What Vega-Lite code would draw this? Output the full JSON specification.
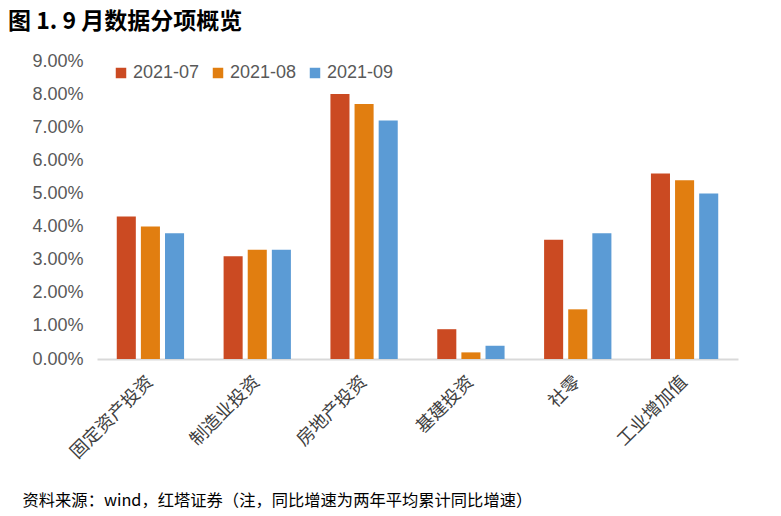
{
  "$schema": "https://vega.github.io/schema/vega-lite/v6.json",
  "width": 641,
  "height": 298,
  "autosize": "none",
  "padding": {"left": 97, "top": 61, "right": 43, "bottom": 157},
  "background": "white",
  "title": {
    "text": "图 1. 9 月数据分项概览",
    "anchor": "start",
    "orient": "top",
    "frame": "group",
    "dx": -89,
    "dy": -14,
    "font": "Noto Sans CJK SC",
    "fontSize": 23,
    "fontWeight": "bold",
    "color": "#000000"
  },
  "data": {
    "values": [
      {"cat": "固定资产投资", "series": "2021-07", "value": 4.3},
      {"cat": "固定资产投资", "series": "2021-08", "value": 4.0},
      {"cat": "固定资产投资", "series": "2021-09", "value": 3.8},
      {"cat": "制造业投资", "series": "2021-07", "value": 3.1},
      {"cat": "制造业投资", "series": "2021-08", "value": 3.3},
      {"cat": "制造业投资", "series": "2021-09", "value": 3.3},
      {"cat": "房地产投资", "series": "2021-07", "value": 8.0},
      {"cat": "房地产投资", "series": "2021-08", "value": 7.7},
      {"cat": "房地产投资", "series": "2021-09", "value": 7.2},
      {"cat": "基建投资", "series": "2021-07", "value": 0.9},
      {"cat": "基建投资", "series": "2021-08", "value": 0.2},
      {"cat": "基建投资", "series": "2021-09", "value": 0.4},
      {"cat": "社零", "series": "2021-07", "value": 3.6},
      {"cat": "社零", "series": "2021-08", "value": 1.5},
      {"cat": "社零", "series": "2021-09", "value": 3.8},
      {"cat": "工业增加值", "series": "2021-07", "value": 5.6},
      {"cat": "工业增加值", "series": "2021-08", "value": 5.4},
      {"cat": "工业增加值", "series": "2021-09", "value": 5.0}
    ]
  },
  "mark": {"type": "bar"},
  "encoding": {
    "x": {
      "field": "cat",
      "type": "nominal",
      "sort": null,
      "scale": {"paddingInner": 0.37, "paddingOuter": 0.185},
      "axis": {
        "title": "资料来源：wind，红塔证券（注，同比增速为两年平均累计同比增速）",
        "titleAnchor": "start",
        "titleAlign": "left",
        "titleBaseline": "middle",
        "titleX": -75,
        "titleY": 141,
        "titleFont": "Noto Sans CJK SC",
        "titleFontSize": 16.3,
        "titleFontWeight": "normal",
        "titleColor": "#000000",
        "labelAngle": -45,
        "labelAlign": "right",
        "labelBaseline": "middle",
        "labelFont": "Noto Sans CJK SC",
        "labelFontSize": 18,
        "labelColor": "#404040",
        "labelPadding": 20,
        "ticks": false,
        "domainColor": "#D9D9D9",
        "domainWidth": 2,
        "grid": false
      }
    },
    "xOffset": {
      "field": "series",
      "type": "nominal",
      "scale": {"paddingInner": 0.21, "paddingOuter": 0}
    },
    "y": {
      "field": "value",
      "type": "quantitative",
      "scale": {"domain": [0, 9], "nice": false},
      "axis": {
        "title": null,
        "values": [0, 1, 2, 3, 4, 5, 6, 7, 8, 9],
        "labelExpr": "format(datum.value, '.2f') + '%'",
        "labelFont": "Liberation Sans",
        "labelFontSize": 18,
        "labelColor": "#595959",
        "labelPadding": 14,
        "ticks": false,
        "domain": false,
        "grid": false
      }
    },
    "color": {
      "field": "series",
      "type": "nominal",
      "scale": {"domain": ["2021-07", "2021-08", "2021-09"], "range": ["#CB4A22", "#E17E10", "#5B9BD5"]},
      "legend": {
        "title": null,
        "orient": "none",
        "direction": "horizontal",
        "legendX": 15,
        "legendY": 3,
        "symbolType": "square",
        "symbolSize": 110,
        "symbolStrokeWidth": 0,
        "labelFont": "Liberation Sans",
        "labelFontSize": 18,
        "labelColor": "#595959",
        "labelOffset": 3,
        "columnPadding": 9
      }
    }
  },
  "config": {
    "view": {"stroke": null}
  }
}
